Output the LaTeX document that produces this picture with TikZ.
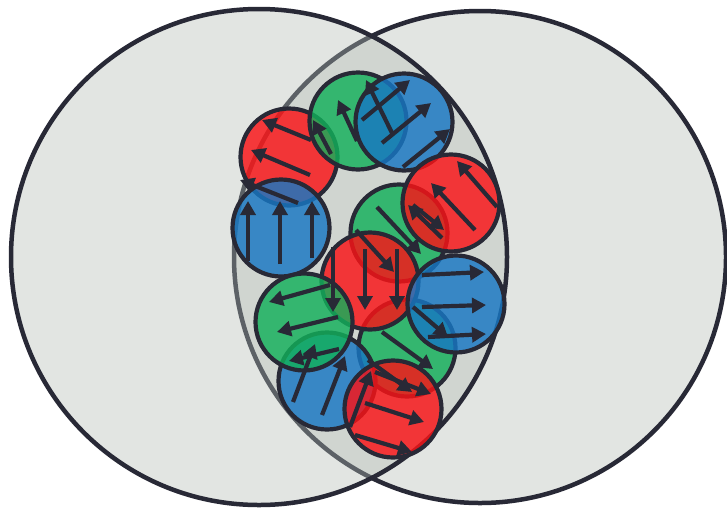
\documentclass[tikz,border=0pt]{standalone}
\usetikzlibrary{arrows.meta}
\definecolor{ink}{RGB}{40,41,54}
\definecolor{venn}{RGB}{179,189,181}
\definecolor{cred}{RGB}{250,19,22}
\definecolor{cgreen}{RGB}{18,176,90}
\definecolor{cblue}{RGB}{23,119,195}
\begin{document}
\begin{tikzpicture}[x=1pt,y=-1pt,
  bigc/.style={draw=ink, line width=4.5pt, fill=venn, fill opacity=0.38},
  ball/.style={circle, draw=ink, line width=4.2pt, fill opacity=0.82, minimum size=97pt, inner sep=0pt},
  arr/.style={draw=ink, line width=4.2pt, -{Triangle[length=14pt,width=15pt]}}]
\useasboundingbox (0,0) rectangle (727,509);
\fill[white] (0,0) rectangle (727,509);
% Venn circles
\draw[bigc] (480,257) circle (246);
\draw[bigc] (259,257) circle (248);
% balls
\node[ball, fill=cred]   (A) at (289,157) {};
\node[ball, fill=cgreen] (B) at (358,121) {};
\node[ball, fill=cblue]  (C) at (404,122) {};
\node[ball, fill=cblue]  (D) at (281,228) {};
\node[ball, fill=cgreen] (F) at (399,233) {};
\node[ball, fill=cred]   (E) at (451,203) {};
\node[ball, fill=cgreen] (J) at (407,348) {};
\node[ball, fill=cred]   (G) at (370,281) {};
\node[ball, fill=cblue]  (H) at (456,304) {};
\node[ball, fill=cblue]  (K) at (327,381) {};
\node[ball, fill=cgreen] (I) at (304,322) {};
\node[ball, fill=cred]   (L) at (393,409) {};
% arrows
\draw[arr] (311,140) -- (262,120);
\draw[arr] (310,175) -- (251,150);
\draw[arr] (298,203) -- (240,180);
\draw[arr] (357,141) -- (338,100);
\draw[arr] (331,154) -- (313,120);
\draw[arr] (393,135) -- (366,80);
\draw[arr] (362,120) -- (410,80);
\draw[arr] (382,143) -- (431,103);
\draw[arr] (403,167) -- (450,129);
\draw[arr] (248,261) -- (248,201);
\draw[arr] (280,264) -- (280,201);
\draw[arr] (312,258) -- (312,201);
\draw[arr] (497,207) -- (457,161);
\draw[arr] (475,230) -- (431,183);
\draw[arr] (442,238) -- (408,205);
\draw[arr] (377,207) -- (421,254);
\draw[arr] (356,230) -- (394,272);
\draw[arr] (413,205) -- (444,230);
\draw[arr] (333,247) -- (333,312);
\draw[arr] (365,249) -- (365,310);
\draw[arr] (397,249) -- (397,310);
\draw[arr] (422,275) -- (484,272);
\draw[arr] (422,307) -- (486,305);
\draw[arr] (428,337) -- (486,334);
\draw[arr] (330,285) -- (269,302);
\draw[arr] (338,317) -- (277,332);
\draw[arr] (339,349) -- (289,361);
\draw[arr] (413,307) -- (448,337);
\draw[arr] (382,332) -- (433,369);
\draw[arr] (368,360) -- (412,392);
\draw[arr] (293,402) -- (315,344);
\draw[arr] (322,415) -- (345,356);
\draw[arr] (350,427) -- (371,371);
\draw[arr] (375,372) -- (431,394);
\draw[arr] (365,403) -- (424,422);
\draw[arr] (355,435) -- (412,452);
\end{tikzpicture}
\end{document}
